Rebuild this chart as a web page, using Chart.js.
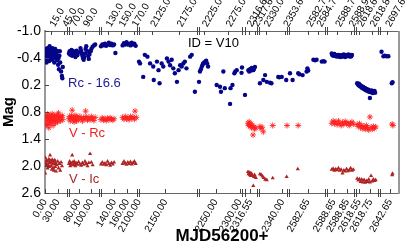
<!DOCTYPE html>
<html>
<head>
<meta charset="utf-8">
<script src="https://cdn.jsdelivr.net/npm/chart.js@4.4.1/dist/chart.umd.min.js"></script>
<style>
  html, body { margin: 0; padding: 0; background: #fff; }
  #wrap { width: 409px; height: 245px; }
</style>
</head>
<body>
<div id="wrap"><canvas id="lc"></canvas></div>
<script>
// broken x axis: each piece of the axis (in axis units) and the MJD range it shows
const segUnits = [[0, 22], [24, 54], [56, 92], [94, 152], [154, 197], [200, 212], [214, 242], [244, 280], [282, 309], [311, 333], [335, 354]];
const bottomRanges = [[0, 52], [65, 112], [120, 175], [2100, 2210], [2215, 2305], [2312, 2322], [2325, 2343], [2578, 2587], [2588.55, 2588.95], [2618.5, 2618.88], [2640, 2645]];
const topRanges = [[0, 52], [65, 112], [120, 175], [2100, 2210], [2215, 2305], [2316, 2318], [2322, 2356], [2579, 2586], [2588.55, 2588.95], [2618.55, 2618.9], [2695, 2702]];

const bottomTicks = [0, 30, 80, 100, 140, 160, 2100, 2150, 2250, 2300, 2316.55, 2340, 2582.65, 2588.65, 2588.85, 2618.55, 2618.75, 2642.65];
const topTicks = [15, 45, 70, 90, 130, 150, 170, 2125, 2175, 2225, 2275, 2316.6, 2317.6, 2330, 2353.6, 2582.7, 2584.7, 2588.7, 2588.9, 2618.6, 2618.8, 2697.6];
const magTicks = [-1.0, -0.4, 0.2, 0.8, 1.4, 2.0, 2.6];

// Rc - 16.6  [MJD-56200, mag]
const rcPoints = [
  [0.5,-0.45],[1,-0.55],[1.5,-0.35],[2,-0.5],[2.5,-0.4],[3,-0.6],[3.5,-0.3],[4,-0.48],[5,-0.55],[5.5,-0.38],
  [6,-0.62],[7,-0.44],[8,-0.5],[9,-0.58],[9.5,-0.33],[10,-0.45],[11,-0.66],[12,-0.52],[13,-0.4],[14,-0.6],
  [15,-0.47],[16,-0.55],[17,-0.36],[18,-0.62],[19,-0.5],[20,-0.42],[21,-0.57],[22,-0.3],[23,-0.48],[24,-0.6],
  [25,-0.4],[26,-0.5],[27,-0.52],[28,-0.44],[29,-0.35],[30,-0.55],[31,-0.25],[32,-0.4],[33,-0.15],[34,-0.45],
  [35,-0.55],[36,-0.3],[38,-0.1],[40,0.0],[41,0.05],[42,-0.2],
  [65,-0.5],[66,-0.55],[67,-0.47],[68,-0.52],[69,-0.58],[70,-0.45],[71,-0.5],[72,-0.55],[73,-0.48],[74,-0.53],
  [75,-0.42],[76,-0.5],[77,-0.56],[78,-0.46],[80,-0.52],[83,-0.62],[84,-0.56],[85,-0.5],[86,-0.45],[87,-0.4],
  [88,-0.36],[89,-0.42],[90,-0.5],[91,-0.6],[92,-0.66],[94,-0.55],[95,-0.45],[96,-0.38],[97,-0.48],[99,-0.55],
  [100,-0.6],[102,-0.65],[104,-0.68],[106,-0.7],
  [120,-0.66],[122,-0.7],[124,-0.68],[126,-0.72],[128,-0.67],[130,-0.7],[132,-0.74],[134,-0.69],[136,-0.72],
  [138,-0.68],[140,-0.7],[142,-0.51],[153,-0.68],[155,-0.73],[157,-0.7],[159,-0.75],[161,-0.7],[163,-0.72],
  [165,-0.68],[167,-0.74],[169,-0.7],[171,-0.72],[173,-0.67],
  [2100,-0.32],[2102,-0.28],[2108,0.02],[2111,-0.47],[2116,-0.43],[2121,-0.28],[2127,-0.21],[2128,0.09],
  [2134,-0.32],[2137,-0.13],[2139,0.16],[2143,-0.28],[2146,-0.21],[2153,-0.39],[2156,-0.32],[2159,-0.24],
  [2162,-0.36],[2165,-0.17],[2168,-0.06],[2172,0.13],[2175,-0.13],[2178,-0.24],[2181,-0.21],[2184,-0.28],
  [2187,-0.32],[2190,-0.17],[2197,-0.43],[2200,-0.47],[2206,0.35],
  [2215,0.13],[2217,-0.10],[2219,-0.15],[2221,-0.21],[2223,-0.26],[2224,-0.28],[2226,-0.3],[2228,-0.32],
  [2230,-0.34],[2232,-0.28],[2234,-0.21],[2252,0.2],[2259,0.24],[2261,0.35],[2266,-0.10],[2269,0.27],
  [2280,0.62],[2281,0.27],[2285,0.2],[2289,-0.06],[2291,-0.1],[2294,-0.13],[2304,-0.07],[2305,-0.19],
  [2312,0.42],[2314.8,-0.13],[2315.5,-0.1],[2316.2,-0.15],[2317,-0.12],[2317.6,-0.18],[2318.9,-0.13],
  [2319.5,-0.16],[2320.3,-0.2],
  [2325.6,0.16],[2327.8,0.09],[2328.9,-0.02],[2330,0.13],[2332.1,0.15],[2333,0.16],[2337.4,0.02],[2338,0.03],
  [2339.6,0.02],[2342.5,0.09],
  [2578.25,-0.06],[2578.9,0.09],[2580.3,-0.06],[2580.6,-0.04],[2581.4,-0.02],[2582.4,-0.1],[2582.6,-0.17],
  [2582.8,-0.12],[2584.1,-0.36],[2584.5,-0.35],[2584.9,-0.36],[2586.2,-0.32],[2586.6,-0.33],[2586.9,-0.32],
  [2588.62,-0.5],[2588.63,-0.46],[2588.64,-0.48],[2588.65,-0.45],[2588.66,-0.49],[2588.67,-0.47],[2588.68,-0.44],
  [2588.69,-0.46],[2588.70,-0.45],[2588.71,-0.43],[2588.72,-0.47],[2588.73,-0.44],[2588.74,-0.46],[2588.75,-0.42],
  [2588.76,-0.45],[2588.77,-0.43],[2588.78,-0.47],[2588.79,-0.44],[2588.80,-0.48],[2588.81,-0.45],[2588.82,-0.42],
  [2588.83,-0.46],[2588.84,-0.44],[2588.85,-0.47],[2588.86,-0.45],[2588.87,-0.48],[2588.88,-0.46],[2588.89,-0.43],
  [2588.90,-0.46],[2588.91,-0.44],[2588.92,-0.47],
  [2618.52,0.16],[2618.53,0.18],[2618.54,0.2],[2618.55,0.17],[2618.56,0.22],[2618.57,0.2],[2618.58,0.24],
  [2618.59,0.22],[2618.60,0.25],[2618.61,0.27],[2618.62,0.24],[2618.63,0.28],[2618.64,0.26],[2618.65,0.3],
  [2618.66,0.27],[2618.67,0.31],[2618.68,0.29],[2618.69,0.33],[2618.70,0.3],[2618.71,0.34],[2618.72,0.31],
  [2618.73,0.35],[2618.74,0.49],[2618.75,0.33],[2618.76,0.36],[2618.77,0.32],[2618.78,0.35],[2618.79,0.38],
  [2618.80,0.34],[2618.81,0.36],[2618.82,0.33],[2618.83,0.37],
  [2640.4,-0.54],[2640.9,-0.44],[2641.3,-0.45],[2641.7,-0.44],[2642.2,-0.44],[2643.1,0.16],[2643.3,0.14]
];

// V - Rc
const vrPoints = [
  [0,0.95],[1,1.05],[2,0.88],[3,1.1],[4,0.92],[5,1.0],[6,0.85],[7,1.08],[8,0.95],[9,1.15],[10,0.9],[11,1.02],
  [12,0.87],[13,0.97],[14,1.06],[15,0.9],[16,1.0],[17,0.84],[18,0.95],[19,1.1],[20,0.92],[21,1.0],[22,0.88],
  [24,0.97],[25,1.05],[26,0.9],[28,0.98],[29,0.86],[30,1.02],[31,0.93],[32,0.82],[34,0.96],[36,0.9],[37,1.0],
  [39,0.92],[41,0.88],[42,0.97],
  [65,0.95],[66,0.9],[67,1.0],[68,0.93],[69,0.88],[70,0.76],[71,0.97],[72,0.92],[73,1.02],[74,0.9],[75,0.96],
  [76,0.88],[77,1.0],[78,0.93],[80,0.97],[82,0.9],[84,0.95],[86,1.0],[88,0.92],[90,0.96],[91,0.78],[92,0.9],
  [94,0.98],[96,0.93],[98,0.97],[100,0.9],[102,0.95],[104,0.99],[106,0.92],
  [120,0.97],[122,0.93],[124,0.98],[126,0.95],[128,0.99],[130,0.94],[132,0.97],[134,0.93],[136,0.96],[138,0.98],
  [140,0.95],[153,0.92],[155,0.96],[157,0.9],[159,0.95],[161,0.93],[163,0.97],[165,0.9],[167,0.94],[169,0.91],
  [171,0.96],[172,0.78],[174,0.92],
  [2314.5,1.05],[2315,1.1],[2315.5,1.02],[2316,1.08],[2316.5,1.12],[2317,1.06],[2317.5,1.15],[2318,1.1],
  [2318.7,1.31],[2319.5,1.13],[2320,1.18],[2321,1.15],
  [2325.6,1.12],[2326.3,1.17],[2327,1.14],[2327.8,1.24],[2333.8,1.1],[2343,1.1],[2580.3,1.1],
  [2588.62,1.05],[2588.64,1.0],[2588.66,1.06],[2588.68,1.02],[2588.70,1.08],[2588.72,1.0],[2588.74,1.05],
  [2588.76,1.1],[2588.78,1.03],[2588.80,1.07],[2588.82,1.01],[2588.84,1.06],[2588.86,1.04],[2588.88,1.1],
  [2588.90,1.05],[2588.92,1.02],[2588.94,1.07],
  [2618.52,1.08],[2618.54,1.12],[2618.56,1.06],[2618.58,1.15],[2618.60,1.1],[2618.62,1.17],[2618.64,1.12],
  [2618.66,1.18],[2618.68,1.1],[2618.70,1.15],[2618.72,1.2],[2618.74,0.91],[2618.76,1.14],[2618.78,1.18],
  [2618.80,1.12],[2618.82,1.16],[2618.84,1.13],
  [2643.2,1.07],[2643.4,1.1]
];

// V - Ic
const viPoints = [
  [0,1.9],[0.5,2.16],[1,1.82],[2,1.95],[3,2.0],[4,1.88],[5,1.97],[6,2.05],[7,1.9],[8,1.98],[9,1.85],[10,2.02],
  [11,1.93],[12,1.76],[13,1.88],[14,2.0],[15,1.92],[16,2.08],[17,1.86],[18,1.96],[19,2.04],[20,1.9],[21,2.1],
  [22,1.95],[23,1.87],[24,2.02],[25,1.93],[26,2.12],[28,1.98],[30,1.9],[32,2.05],[34,1.95],[36,2.1],[38,1.92],
  [40,2.0],
  [65,1.95],[66,1.9],[67,2.0],[68,1.93],[69,1.97],[70,1.76],[71,1.92],[72,1.98],[73,1.9],[74,1.95],[75,2.0],
  [76,1.93],[78,1.97],[80,1.91],[82,1.96],[84,1.99],[86,1.93],[88,1.97],[90,1.9],[92,1.95],[94,2.0],[96,1.93],
  [98,1.73],[100,1.92],[102,1.98],
  [120,1.96],[122,1.92],[124,1.97],[126,1.94],[128,1.98],[130,1.9],[132,1.95],[134,1.99],[136,1.93],[138,1.96],
  [140,1.92],[153,1.95],[155,1.9],[157,1.94],[159,1.97],[161,1.92],[163,1.95],[165,1.91],[167,1.96],[169,1.93],
  [171,1.9],[173,1.95],
  [2314.5,2.13],[2315,2.18],[2315.5,2.15],[2316,2.2],[2316.5,2.16],[2317,2.22],[2317.5,2.17],[2318,2.21],
  [2318.9,2.44],[2319.5,2.24],[2320,2.2],[2321,2.26],
  [2325.6,2.18],[2326.5,2.2],[2327.3,2.23],[2328,2.26],[2329,2.3],[2330,2.31],[2333.8,2.27],[2342.8,2.24],
  [2580.2,2.07],
  [2588.62,2.08],[2588.64,2.06],[2588.66,2.1],[2588.68,2.07],[2588.70,2.09],[2588.72,2.05],[2588.74,2.1],
  [2588.76,2.08],[2588.78,2.16],[2588.80,2.1],[2588.82,2.12],[2588.84,2.07],[2588.86,2.11],[2588.88,2.09],
  [2588.90,2.05],[2588.92,2.1],[2588.94,2.08],
  [2618.52,2.28],[2618.54,2.32],[2618.56,2.29],[2618.58,2.35],[2618.60,2.3],[2618.62,2.36],[2618.64,2.31],
  [2618.66,2.37],[2618.68,2.33],[2618.70,2.35],[2618.72,2.3],[2618.74,2.36],[2618.76,2.22],[2618.78,2.34],
  [2618.80,2.3],[2618.82,2.33],[2618.84,2.31],
  [2643.2,2.2],[2643.3,2.17]
];

function makeSegs(ranges) {
  return ranges.map((r, i) => ({ lo: r[0], hi: r[1], u0: segUnits[i][0], u1: segUnits[i][1] }));
}
const bottomSegs = makeSegs(bottomRanges);
const topSegs = makeSegs(topRanges);

// MJD -> position on the broken axis
function toUnits(day, segs) {
  let best = segs[0], dist = Infinity;
  for (const s of segs) {
    const d = day < s.lo ? s.lo - day : (day > s.hi ? day - s.hi : 0);
    if (d < dist) { dist = d; best = s; }
  }
  const t = Math.min(1, Math.max(0, (day - best.lo) / (best.hi - best.lo)));
  return best.u0 + t * (best.u1 - best.u0);
}

const toXY = pts => pts.map(p => ({ x: toUnits(p[0], bottomSegs), y: p[1] }));
const FONT = 'Liberation Sans, Arial, sans-serif';

const decor = {
  id: 'decor',
  afterDraw(chart) {
    const { ctx, chartArea: a, scales } = chart;
    const x = scales.x, y = scales.y;
    ctx.save();
    // top and right frame
    ctx.strokeStyle = '#666';
    ctx.lineWidth = 1;
    ctx.beginPath();
    ctx.moveTo(a.left, a.top + 0.5);
    ctx.lineTo(a.right, a.top + 0.5);
    ctx.stroke();
    ctx.strokeStyle = '#999';
    ctx.lineWidth = 2;
    ctx.beginPath();
    ctx.moveTo(a.right, a.top);
    ctx.lineTo(a.right, a.bottom + 1);
    ctx.stroke();

    ctx.strokeStyle = '#444';
    ctx.lineWidth = 1;
    ctx.beginPath();
    // y ticks (inward)
    magTicks.forEach(m => {
      const py = Math.round(y.getPixelForValue(m)) + 0.5;
      ctx.moveTo(a.left, py); ctx.lineTo(a.left + 4, py);
    });
    // x ticks (inward)
    bottomTicks.forEach(d => {
      const px = Math.round(x.getPixelForValue(toUnits(d, bottomSegs))) + 0.5;
      ctx.moveTo(px, a.bottom); ctx.lineTo(px, a.bottom - 4);
    });
    topTicks.forEach(d => {
      const px = Math.round(x.getPixelForValue(toUnits(d, topSegs))) + 0.5;
      ctx.moveTo(px, a.top); ctx.lineTo(px, a.top + 4);
    });
    // axis break marks
    for (let i = 0; i < segUnits.length - 1; i++) {
      [segUnits[i][1], segUnits[i + 1][0]].forEach(u => {
        const px = Math.round(x.getPixelForValue(u)) + 0.5;
        ctx.moveTo(px, a.bottom - 4); ctx.lineTo(px, a.bottom + 4);
        ctx.moveTo(px, a.top - 4); ctx.lineTo(px, a.top + 4);
      });
    }
    ctx.stroke();

    // top tick labels, rotated, starting at the tick
    ctx.fillStyle = '#000';
    ctx.font = '10px ' + FONT;
    ctx.textAlign = 'left';
    ctx.textBaseline = 'middle';
    topTicks.forEach(d => {
      const px = x.getPixelForValue(toUnits(d, topSegs));
      ctx.save();
      ctx.translate(px + 1, a.top - 5);
      ctx.rotate(-Math.PI / 3);
      ctx.fillText(d.toFixed(1), 0, 0);
      ctx.restore();
    });

    // annotations
    ctx.font = '13px ' + FONT;
    ctx.fillStyle = '#000';
    ctx.fillText('ID = V10', x.getPixelForValue(143), y.getPixelForValue(-0.73));
    ctx.fillStyle = '#1a1a96';
    ctx.fillText('Rc - 16.6', x.getPixelForValue(23), y.getPixelForValue(0.16));
    ctx.fillStyle = '#f02020';
    ctx.fillText('V - Rc', x.getPixelForValue(24), y.getPixelForValue(1.27));
    ctx.fillStyle = '#a82828';
    ctx.fillText('V - Ic', x.getPixelForValue(24), y.getPixelForValue(2.29));
    ctx.restore();
  }
};

new Chart(document.getElementById('lc'), {
  type: 'scatter',
  data: {
    datasets: [
      { label: 'Rc - 16.6', data: toXY(rcPoints), pointStyle: 'circle', pointRadius: 2.2,
        backgroundColor: '#05058a', borderWidth: 0 },
      { label: 'V - Rc', data: toXY(vrPoints), pointStyle: 'star', pointRadius: 3,
        borderColor: 'rgba(255,30,30,0.85)', backgroundColor: 'rgba(255,30,30,0.85)', borderWidth: 1 },
      { label: 'V - Ic', data: toXY(viPoints), pointStyle: 'triangle', pointRadius: 2.4,
        backgroundColor: '#b02222', borderWidth: 0 }
    ]
  },
  options: {
    responsive: true,
    maintainAspectRatio: false,
    animation: false,
    layout: { padding: { top: 31, right: 10 } },
    plugins: { legend: { display: false }, tooltip: { enabled: false } },
    scales: {
      x: {
        type: 'linear', position: 'bottom', min: 0, max: 354,
        grid: { display: false, drawTicks: false },
        border: { color: '#666', width: 1 },
        afterFit: s => { s.height = 52; },
        afterBuildTicks: s => { s.ticks = bottomTicks.map(d => ({ value: toUnits(d, bottomSegs) })); },
        ticks: {
          autoSkip: false, minRotation: 60, maxRotation: 60, padding: 4, color: '#000',
          font: { family: FONT, size: 10 },
          callback: (v, i) => bottomTicks[i].toFixed(2)
        },
        title: { display: true, text: 'MJD56200+', color: '#000', padding: 0,
                 font: { family: FONT, size: 17, weight: 'bold', lineHeight: 1 } }
      },
      y: {
        reverse: true, min: -1.0, max: 2.6,
        grid: { display: false, drawTicks: false },
        border: { color: '#999', width: 2 },
        afterFit: s => { s.width = 45; },
        afterBuildTicks: s => { s.ticks = magTicks.map(v => ({ value: v })); },
        ticks: { padding: 4, color: '#000', font: { family: FONT, size: 14 },
                 callback: v => v.toFixed(1) },
        title: { display: true, text: 'Mag', color: '#000', padding: 0,
                 font: { family: FONT, size: 15, weight: 'bold' } }
      }
    }
  },
  plugins: [decor]
});
</script>
</body>
</html>
